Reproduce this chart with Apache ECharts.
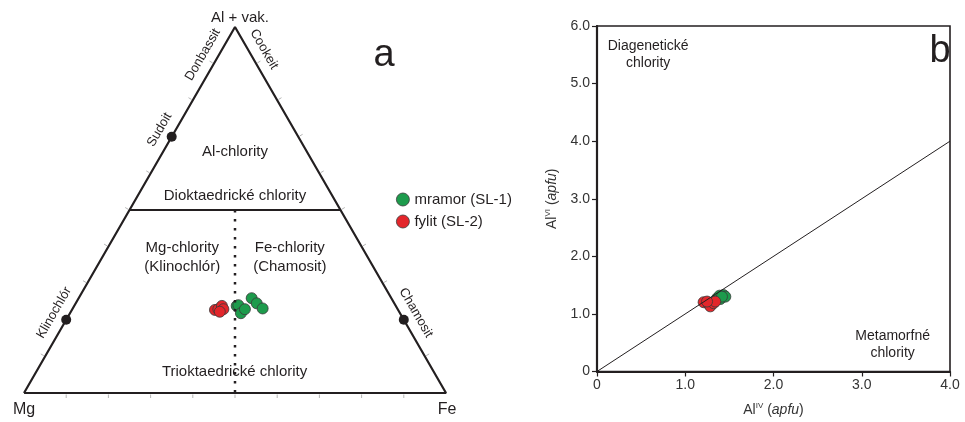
<!DOCTYPE html>
<html>
<head>
<meta charset="utf-8">
<script src="https://cdn.jsdelivr.net/npm/echarts@6/dist/echarts.min.js"></script>
<style>
html, body { margin: 0; background: #fff; }
#main { width: 965px; height: 422px; }
</style>
</head>
<body>
<div id="main"></div>
<script>
// ternarni diagram: [Al + vak., Fe, Mg]
let ternMramor = [
    [0.238, 0.385, 0.377],
    [0.240, 0.388, 0.372],
    [0.218, 0.405, 0.377],
    [0.229, 0.409, 0.362],
    [0.259, 0.410, 0.331],
    [0.245, 0.429, 0.326],
    [0.231, 0.450, 0.319]
];
let ternFylit = [
    [0.227, 0.339, 0.434],
    [0.229, 0.346, 0.425],
    [0.238, 0.350, 0.412],
    [0.229, 0.358, 0.413],
    [0.222, 0.353, 0.425]
];
// Al IV vs Al VI (apfu)
let alMramor = [
    [1.360, 1.271],
    [1.389, 1.317],
    [1.434, 1.327],
    [1.397, 1.259],
    [1.454, 1.300],
    [1.416, 1.300]
];
let alFylit = [
    [1.208, 1.203],
    [1.265, 1.169],
    [1.284, 1.131],
    [1.321, 1.186],
    [1.340, 1.215],
    [1.247, 1.215]
];
let oneToOne = [0, 4];
let edgeTicks = [0.1, 0.2, 0.3, 0.4, 0.5, 0.6, 0.7, 0.8, 0.9];
// koncove cleny na stranach trojuhelniku: [nazev, strana, Al]
let endMembers = [
    ['Klinochlór', 'left', 0.2],
    ['Sudoit', 'left', 0.7],
    ['Chamosit', 'right', 0.2]
];
let edgeLabels = [
    ['Klinochlór', 'left', 0.2],
    ['Sudoit', 'left', 0.7],
    ['Donbassit', 'left', 0.905],
    ['Cookeit', 'right', 0.92],
    ['Chamosit', 'right', 0.2]
];

const H = Math.sqrt(3) / 2;
const INK = '#231f20';
const GREEN = '#1d9b4c';
const RED = '#e3262b';
const FONT = 'Liberation Sans, Arial, sans-serif';

function tern(al, fe, mg) {
    let s = al + fe + mg;
    al /= s; fe /= s;
    return [fe + al / 2, al * H];
}
function edgePoint(side, al) {
    return side === 'left' ? tern(al, 0, 1 - al) : tern(al, 1 - al, 0);
}

let chart = echarts.init(document.getElementById('main'));

let tickData = [];
edgeTicks.forEach(function (t) {
    tickData.push(tern(0, t, 1 - t).concat([0, 1]));
    tickData.push(tern(t, 0, 1 - t).concat([-0.866, -0.5]));
    tickData.push(tern(t, 1 - t, 0).concat([0.866, -0.5]));
});

let pointStyle = function (c) {
    return { color: c, borderColor: '#3a3a3a', borderWidth: 0.8, opacity: 1 };
};

let option = {
    animation: false,
    textStyle: { fontFamily: FONT },
    legend: {
        orient: 'vertical',
        left: 391,
        top: 187,
        itemGap: 7,
        icon: 'circle',
        itemWidth: 13,
        itemHeight: 13,
        itemStyle: { borderColor: '#3a3a3a', borderWidth: 0.8, opacity: 1 },
        textStyle: { fontSize: 15, color: INK, fontFamily: FONT },
        data: ['mramor (SL-1)', 'fylit (SL-2)']
    },
    grid: [
        { left: 24, top: 27, width: 422, height: 366 },
        { left: 597, top: 26, width: 353, height: 354, show: true, borderColor: INK, borderWidth: 1.6 }
    ],
    xAxis: [
        { gridIndex: 0, min: 0, max: 1, show: false },
        {
            gridIndex: 1, min: 0, max: 4, interval: 1,
            axisLine: { lineStyle: { color: INK, width: 2.2 } },
            axisTick: { length: 5, lineStyle: { color: INK, width: 1.2 } },
            splitLine: { show: false },
            axisLabel: {
                color: '#333', fontSize: 14, margin: 7,
                formatter: function (v) { return v === 0 ? '0' : v.toFixed(1); }
            },
            name: 'Al{s|IV} ({i|apfu})',
            nameLocation: 'middle',
            nameGap: 30,
            nameTextStyle: {
                color: '#333', fontSize: 14,
                rich: {
                    s: { fontSize: 8, padding: [0, 0, 9, 0], color: '#333' },
                    i: { fontStyle: 'italic', fontSize: 14, color: '#333' }
                }
            }
        }
    ],
    yAxis: [
        { gridIndex: 0, min: 0, max: H, show: false },
        {
            gridIndex: 1, min: 0, max: 6, interval: 1,
            axisLine: { lineStyle: { color: INK, width: 2.2 } },
            axisTick: { length: 5, lineStyle: { color: INK, width: 1.2 } },
            splitLine: { show: false },
            axisLabel: {
                color: '#333', fontSize: 14, margin: 7,
                formatter: function (v) { return v === 0 ? '0' : v.toFixed(1); }
            },
            name: 'Al{s|VI} ({i|apfu})',
            nameLocation: 'middle',
            nameGap: 36,
            nameTextStyle: {
                color: '#333', fontSize: 14,
                rich: {
                    s: { fontSize: 8, padding: [0, 0, 9, 0], color: '#333' },
                    i: { fontStyle: 'italic', fontSize: 14, color: '#333' }
                }
            }
        }
    ],
    series: [
        {
            // obrys trojuhelniku
            type: 'line', xAxisIndex: 0, yAxisIndex: 0, symbol: 'none', silent: true,
            lineStyle: { color: INK, width: 2.2 },
            data: [tern(0, 0, 1), tern(0, 1, 0), tern(1, 0, 0), tern(0, 0, 1)]
        },
        {
            // hranice dioktaedricke / trioktaedricke
            type: 'line', xAxisIndex: 0, yAxisIndex: 0, symbol: 'none', silent: true,
            lineStyle: { color: INK, width: 2 },
            data: [edgePoint('left', 0.5), edgePoint('right', 0.5)]
        },
        {
            // Mg = Fe
            type: 'line', xAxisIndex: 0, yAxisIndex: 0, symbol: 'none', silent: true,
            lineStyle: { color: INK, width: 2.5, type: [2.5, 6.5] },
            data: [tern(0.5, 0.25, 0.25), tern(0, 0.5, 0.5)]
        },
        {
            type: 'custom', xAxisIndex: 0, yAxisIndex: 0, silent: true,
            data: tickData,
            renderItem: function (params, api) {
                let p = api.coord([api.value(0), api.value(1)]);
                let nx = api.value(2), ny = api.value(3);
                return {
                    type: 'line',
                    shape: { x1: p[0] + nx * 1.5, y1: p[1] + ny * 1.5, x2: p[0] + nx * 5, y2: p[1] + ny * 5 },
                    style: { stroke: '#b5b5b5', lineWidth: 1 }
                };
            }
        },
        {
            type: 'scatter', xAxisIndex: 0, yAxisIndex: 0, symbolSize: 10, silent: true,
            itemStyle: { color: INK, opacity: 1 },
            data: endMembers.map(function (e) { return edgePoint(e[1], e[2]); })
        },
        {
            name: 'mramor (SL-1)', type: 'scatter', xAxisIndex: 0, yAxisIndex: 0, symbolSize: 11,
            itemStyle: pointStyle(GREEN),
            data: ternMramor.map(function (d) { return tern(d[0], d[1], d[2]); })
        },
        {
            name: 'fylit (SL-2)', type: 'scatter', xAxisIndex: 0, yAxisIndex: 0, symbolSize: 11,
            itemStyle: pointStyle(RED),
            data: ternFylit.map(function (d) { return tern(d[0], d[1], d[2]); })
        },
        {
            name: 'mramor (SL-1)', type: 'scatter', xAxisIndex: 1, yAxisIndex: 1, symbolSize: 11,
            itemStyle: pointStyle(GREEN),
            data: alMramor
        },
        {
            name: 'fylit (SL-2)', type: 'scatter', xAxisIndex: 1, yAxisIndex: 1, symbolSize: 11,
            itemStyle: pointStyle(RED),
            data: alFylit
        },
        {
            type: 'line', xAxisIndex: 1, yAxisIndex: 1, symbol: 'none', silent: true, z: 5,
            lineStyle: { color: INK, width: 1 },
            data: [[oneToOne[0], oneToOne[0]], [oneToOne[1], oneToOne[1]]]
        }
    ]
};
chart.setOption(option);

// popisky
function px(g, pt) {
    return chart.convertToPixel({ gridIndex: g }, pt);
}
function txt(pos, text, o) {
    o = o || {};
    return {
        type: 'text', x: pos[0], y: pos[1], rotation: o.rot || 0, z: 10,
        style: {
            text: text, fill: INK, font: (o.size || 15) + 'px ' + FONT,
            align: 'center', verticalAlign: 'middle', lineHeight: o.lh || 18
        }
    };
}
let els = [];
edgeLabels.forEach(function (e) {
    let p = px(0, edgePoint(e[1], e[2]));
    let off = 14;
    if (e[1] === 'left') {
        els.push(txt([p[0] - 0.866 * off, p[1] - 0.5 * off], e[0], { size: 13, rot: Math.PI / 3 }));
    } else {
        els.push(txt([p[0] + 0.866 * off, p[1] - 0.5 * off], e[0], { size: 13, rot: -Math.PI / 3 }));
    }
});
let apex = px(0, tern(1, 0, 0));
els.push(txt([apex[0] + 5, apex[1] - 9], 'Al + vak.', { size: 15 }));
let mg = px(0, tern(0, 0, 1));
let fe = px(0, tern(0, 1, 0));
els.push(txt([mg[0], mg[1] + 17], 'Mg', { size: 16 }));
els.push(txt([fe[0] + 1, fe[1] + 17], 'Fe', { size: 16 }));
els.push(txt(px(0, tern(0.66, 0.17, 0.17)), 'Al-chlority'));
els.push(txt(px(0, tern(0.54, 0.23, 0.23)), 'Dioktaedrické chlority'));
els.push(txt(px(0, tern(0.37, 0.19, 0.44)), 'Mg-chlority\n(Klinochlór)', { lh: 19 }));
els.push(txt(px(0, tern(0.37, 0.445, 0.185)), 'Fe-chlority\n(Chamosit)', { lh: 19 }));
els.push(txt(px(0, tern(0.058, 0.47, 0.472)), 'Trioktaedrické chlority'));
els.push(txt([384, 56], 'a', { size: 38 }));
els.push(txt(px(1, [0.58, 5.5]), 'Diagenetické\nchlority', { size: 14, lh: 17 }));
els.push(txt(px(1, [3.35, 0.47]), 'Metamorfné\nchlority', { size: 14, lh: 17 }));
els.push(txt([940, 52], 'b', { size: 38 }));
chart.setOption({ graphic: els });
</script>
</body>
</html>
